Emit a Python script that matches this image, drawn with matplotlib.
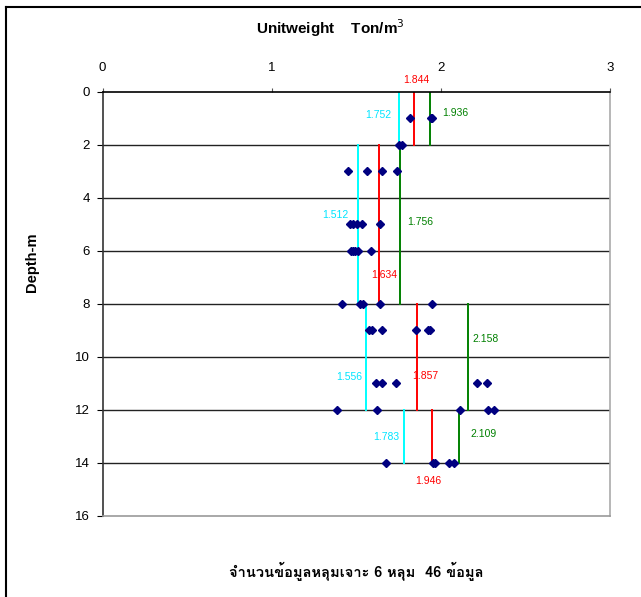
import matplotlib
matplotlib.use("Agg")
import matplotlib.pyplot as plt
from matplotlib import font_manager, ft2font
from matplotlib.lines import Line2D

# data points (unit weight Ton/m3 vs depth m)
depth_pts = [1, 1, 1,
             2, 2,
             3, 3, 3, 3,
             5, 5, 5, 5, 5,
             6, 6, 6, 6, 6,
             8, 8, 8, 8, 8,
             9, 9, 9, 9, 9, 9,
             11, 11, 11, 11, 11,
             12, 12, 12, 12, 12,
             14, 14, 14, 14, 14]
unitw_pts = [1.820, 1.939, 1.950,
             1.752, 1.770,
             1.451, 1.563, 1.652, 1.741,
             1.463, 1.481, 1.504, 1.534, 1.640,
             1.469, 1.481, 1.492, 1.510, 1.587,
             1.416, 1.522, 1.540, 1.640, 1.950,
             1.575, 1.593, 1.652, 1.853, 1.924, 1.935,
             1.617, 1.652, 1.735, 2.214, 2.273,
             1.386, 1.622, 2.112, 2.279, 2.315,
             1.675, 1.953, 1.965, 2.048, 2.077]

# layer ranges and mean-std / mean / mean+std
layer_top = [0, 2, 8, 12]
layer_bot = [2, 8, 12, 14]
low_vals = [1.752, 1.512, 1.556, 1.783]
mean_vals = [1.844, 1.634, 1.857, 1.946]
high_vals = [1.936, 1.756, 2.158, 2.109]

# where the value labels sit
low_lbl_x = [1.628, 1.374, 1.457, 1.675]
low_lbl_y = [0.87, 4.64, 10.75, 13.02]
mean_lbl_x = [1.853, 1.664, 1.906, 1.924]
mean_lbl_y = [-0.45, 6.91, 10.72, 14.68]
high_lbl_x = [2.083, 1.876, 2.266, 2.254]
high_lbl_y = [0.79, 4.91, 9.32, 12.91]


def thai_font():
    for f in font_manager.fontManager.ttflist:
        try:
            if 0x0E08 in ft2font.FT2Font(f.fname).get_charmap():
                return f.name
        except Exception:
            pass
    return None


plt.rcParams["font.family"] = ["Liberation Sans", "DejaVu Sans"]

fig = plt.figure(figsize=(6.41, 5.97), dpi=100)
ax = fig.add_axes([0.160, 0.1357, 0.7917, 0.7102])

for i in range(len(layer_top)):
    ax.plot([low_vals[i]] * 2, [layer_top[i], layer_bot[i]], color="#00FFFF", lw=1.4, zorder=2)
    ax.plot([mean_vals[i]] * 2, [layer_top[i], layer_bot[i]], color="#FF0000", lw=1.4, zorder=2)
    ax.plot([high_vals[i]] * 2, [layer_top[i], layer_bot[i]], color="#008000", lw=1.4, zorder=2)
    ax.text(low_lbl_x[i], low_lbl_y[i], "%.3f" % low_vals[i], color="#00E5FF",
            fontsize=7.5, ha="center", va="center")
    ax.text(mean_lbl_x[i], mean_lbl_y[i], "%.3f" % mean_vals[i], color="#FF0000",
            fontsize=7.5, ha="center", va="center", clip_on=False)
    ax.text(high_lbl_x[i], high_lbl_y[i], "%.3f" % high_vals[i], color="#008000",
            fontsize=7.5, ha="center", va="center")

ax.plot(unitw_pts, depth_pts, "D", color="#000080", markersize=4, zorder=3)

ax.set_xlim(0, 3)
ax.set_ylim(16, 0)
ax.set_xticks([0, 1, 2, 3])
ax.set_yticks(range(0, 17, 2))
ax.xaxis.tick_top()
ax.tick_params(axis="x", length=3, pad=10, labelsize=9.5, color="#555555")
ax.tick_params(axis="y", length=4, pad=5, labelsize=9.5)
for d in range(2, 16, 2):
    ax.axhline(d, color="#222222", lw=1.0, zorder=1)
ax.spines["top"].set_color("black")
ax.spines["left"].set_color("#333333")
ax.spines["right"].set_color("#aaaaaa")
ax.spines["bottom"].set_color("#999999")
for s in ax.spines.values():
    s.set_linewidth(1.2)

fig.text(0.515, 0.953, "Unitweight    Ton/m$^3$", ha="center", va="center",
         fontsize=11, fontweight="bold")
fig.text(0.05, 0.56, "Depth-m", rotation=90, ha="center", va="center",
         fontsize=10.5, fontweight="bold")

tf = thai_font()
fam = [tf, "DejaVu Sans"] if tf else ["DejaVu Sans"]
fig.text(0.555, 0.042, "จำนวนข้อมูลหลุมเจาะ 6 หลุม  46 ข้อมูล", ha="center", va="center",
         fontsize=10.5, fontweight="bold", family=fam)

# frame lines on top and left edge of the picture
fig.add_artist(Line2D([0.0094, 1.0], [0.988, 0.988], transform=fig.transFigure, color="black", lw=1.5))
fig.add_artist(Line2D([0.0094, 0.0094], [0.0, 0.988], transform=fig.transFigure, color="black", lw=1.5))

fig.savefig("out.png", dpi=100)
